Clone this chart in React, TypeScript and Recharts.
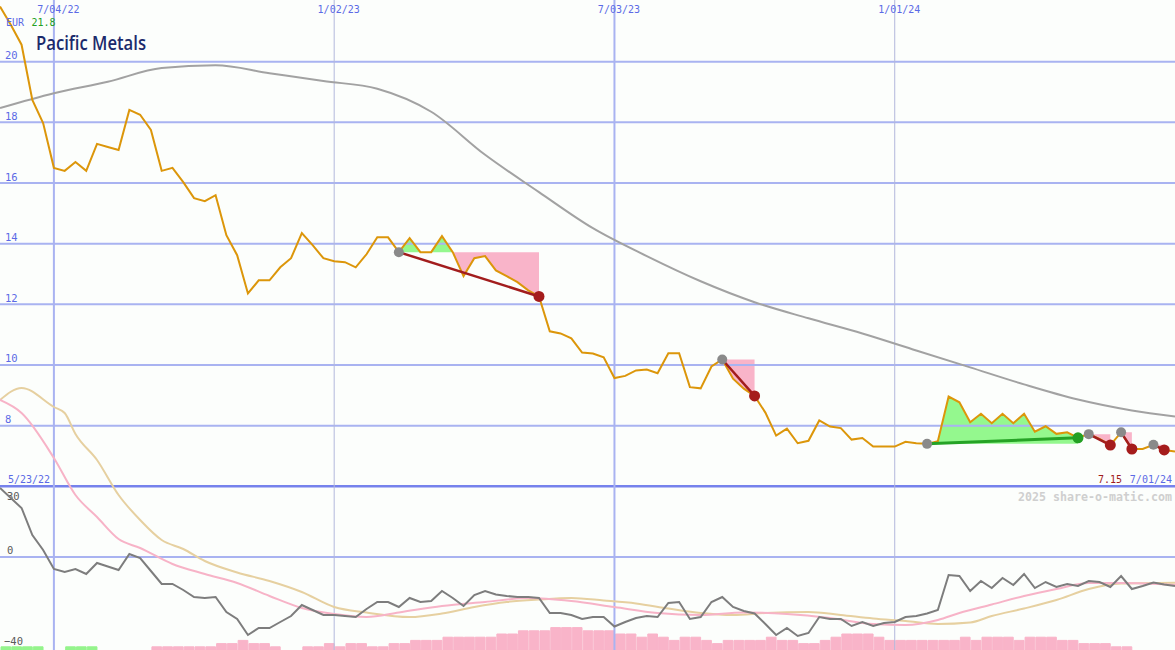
import React from 'react';
import { Area, Bar, ComposedChart, Line, ReferenceLine, XAxis, YAxis } from 'recharts';

const W = 1175;
const H = 650;

// weekly closes, k = 0 is 5/30/22
const price = [
  21.82, 21.22, 20.56, 18.74, 17.98, 16.5, 16.4, 16.69, 16.4, 17.29,
  17.19, 17.09, 18.41, 18.25, 17.75, 16.4, 16.5, 16.03, 15.5, 15.4,
  15.6, 14.28, 13.62, 12.36, 12.79, 12.79, 13.22, 13.52, 14.35, 13.95,
  13.52, 13.42, 13.39, 13.22, 13.65, 14.21, 14.21, 13.72, 14.18, 13.72,
  13.72, 14.25, 13.72, 12.93, 13.52, 13.59, 13.12, 12.93, 12.73, 12.46,
  12.26, 11.11, 11.04, 10.88, 10.41, 10.38, 10.25, 9.57, 9.64, 9.82,
  9.85, 9.73, 10.39, 10.39, 9.27, 9.23, 9.95, 10.18, 9.55, 9.22,
  8.98, 8.43, 7.67, 7.9, 7.42, 7.5, 8.17, 7.97, 7.92, 7.54,
  7.59, 7.31, 7.31, 7.31, 7.47, 7.42, 7.4, 7.49, 8.96, 8.77,
  8.11, 8.39, 8.08, 8.39, 8.08, 8.39, 7.8, 7.98, 7.73, 7.78,
  7.6, 7.72, 7.56, 7.36, 7.78, 7.23, 7.23, 7.37, 7.2, 7.15,
];

const momentum = [
  34.5, 29.5, 24.5, 11, 3.5, -6, -7.5, -6, -8.5, -3,
  -4.75, -6.5, 1.5, -0.5, -7, -13.5, -13.5, -16.5, -20, -20.5,
  -20, -27.5, -31, -39, -35.5, -35.5, -32.5, -29.5, -24, -26.5,
  -29, -29, -29.5, -30, -26, -22.5, -22.5, -25, -20.5, -22.5,
  -22, -17, -20.5, -24.5, -19, -17, -18.75, -19.5, -20, -20,
  -20.5, -28, -28, -29, -31, -30, -30, -34.75, -32.5, -30.5,
  -29.5, -30, -23, -22.5, -31, -30, -22.5, -20, -25, -27,
  -28.25, -33.5, -39, -35.5, -39.5, -38, -30, -31, -31, -34.5,
  -32.5, -34.5, -33, -32.5, -30, -29.5, -28.25, -26.5, -9, -9.5,
  -17, -12, -15.5, -10.5, -14, -8.5, -15.5, -12.5, -15, -13.5,
  -14.5, -12, -12.5, -15, -9.5, -16, -14.5, -12.75, -13.75, -14.5,
];

// histogram steps: positive = green, negative = pink
const hist = [
  1, 1, 1, 1, 0, 0, 1, 1, 1, 0,
  0, 0, 0, 0, -1, -1, -1, -1, -1, -1,
  -2, -2, -3, -2, -2, -1, 0, 0, -1, -1,
  -2, -1, -2, -2, -1, -1, -2, -2, -3, -3,
  -3, -4, -4, -4, -4, -4, -5, -5, -6, -6,
  -6, -7, -7, -7, -6, -6, -6, -5, -5, -4,
  -5, -4, -3, -4, -4, -3, -2, -3, -3, -3,
  -3, -4, -3, -3, -2, -2, -3, -4, -5, -5,
  -5, -4, -3, -3, -3, -3, -3, -3, -3, -4,
  -3, -4, -4, -4, -3, -4, -4, -4, -3, -3,
  -2, -2, -2, -1, -1, 0, 0, 0, 0, 0,
];

// long moving average of price (week, value)
const maPts: [number, number][] = [
  [0, 18.47], [5, 18.96], [10, 19.34], [15, 19.79], [20, 19.88], [25, 19.62],
  [30, 19.36], [35, 19.11], [40, 18.35], [45, 16.93], [50, 15.7], [55, 14.51],
  [60, 13.59], [65, 12.76], [70, 12.07], [75, 11.54], [80, 11.04], [85, 10.48],
  [90, 9.92], [95, 9.36], [100, 8.86], [105, 8.5], [109, 8.3],
];

const oscPinkPts: [number, number][] = [
  [0, 78.5], [2, 72], [5, 49.5], [7, 31], [9, 20], [11, 9], [13, 4.5], [16, -3.5],
  [19, -8.5], [22, -13], [25, -19.5], [28, -25.5], [31, -28.5], [34, -30], [37, -27.75],
  [41, -24.5], [45, -22.5], [49, -20.5], [53, -22], [57, -25], [61, -28], [65, -29],
  [69, -27.75], [73, -28.5], [77, -30.5], [81, -33.5], [84, -34], [87, -31.5], [89, -28],
  [92, -23.75], [95, -19.5], [98, -16], [101, -13], [104, -13], [109, -14],
];

const oscTanPts: [number, number][] = [
  [0, 78.5], [2, 84.5], [5, 75], [6, 72], [7, 61.5], [9, 48.5], [11, 31], [13, 18.5],
  [15, 8.5], [17, 4], [19, -2], [22, -7.75], [25, -12], [28, -17.5], [31, -25],
  [34, -27.75], [38, -30], [41, -28.25], [44, -25], [47, -22.5], [50, -21.25], [53, -20.5],
  [56, -21.75], [59, -23.25], [62, -25.75], [65, -28], [68, -29], [71, -28], [75, -27.5],
  [78, -29], [81, -30.75], [84, -32], [87, -33.5], [90, -32.75], [92, -29.5], [95, -25.75],
  [98, -21.5], [101, -16], [104, -13.25], [109, -12.85],
];

// signal segments: start week -> end week
const trends = [
  { from: 37, to: 50 },
  { from: 67, to: 70 },
  { from: 86, to: 100 },
  { from: 101, to: 103 },
  { from: 104, to: 105 },
  { from: 107, to: 108 },
];

const xTickK = [5, 31, 57, 83];
const xTickLabels = ['7/04/22', '1/02/23', '7/03/23', '1/01/24'];
const priceTicks = [8, 10, 12, 14, 16, 18, 20];
const oscTicks = [30, 0, -40];

const BLUE = '#5b6ae6';
const GRID = '#a9b3f1';
const MONO = '"DejaVu Sans Mono", monospace';
const PINK = '#f9b4c9';
const LIGHT_GREEN = '#94f48c';

const at = (pts: [number, number][], k: number) => {
  const p = pts.find((q) => q[0] === k);
  return p ? p[1] : null;
};

const rows = price.map((p, k) => {
  const row: Record<string, any> = {
    k,
    price: p,
    mom: momentum[k],
    ma: at(maPts, k),
    op: at(oscPinkPts, k),
    ot: at(oscTanPts, k),
    hg: hist[k] > 0 ? hist[k] : null,
    hp: hist[k] < 0 ? -hist[k] : null,
  };
  trends.forEach((t, i) => {
    const inside = k >= t.from && k <= t.to;
    const lvl = price[t.from];
    row[`g${i}`] = inside ? [lvl, Math.max(p, lvl)] : null;
    row[`r${i}`] = inside ? [Math.min(p, lvl), lvl] : null;
    row[`t${i}`] = k === t.from || k === t.to ? p : null;
  });
  row.dotStart = trends.some((t) => t.from === k) ? p : null;
  row.dotRed = trends.some((t) => t.to === k && price[t.to] < price[t.from]) ? p : null;
  row.dotGreen = trends.some((t) => t.to === k && price[t.to] >= price[t.from]) ? p : null;
  return row;
});

// tick texts hung on the reference lines
const XLabel = ({ viewBox, txt }: any) => (
  <text x={viewBox.x + 4.5} y={13} textAnchor="middle" fontSize={10} fontFamily={MONO} fill={BLUE}>
    {txt}
  </text>
);

const YLabel = ({ viewBox, txt, dy0, lx, col }: any) => (
  <text x={lx} y={viewBox.y + dy0} fontSize={10.5} fontFamily={MONO} fill={col}>
    {txt}
  </text>
);

const oscDy = (v: number) => (v === 30 ? 3 : v === -40 ? 8 : -3);

export default function App() {
  const last = price[price.length - 1];
  const top = Math.max(...price);
  return (
    <div style={{ position: 'relative', width: W, height: H, background: '#fcfefc' }}>
      <style>{'body{margin:0;overflow:hidden}'}</style>
      <ComposedChart width={W} height={H} data={rows} margin={{ top: 0, right: 0, bottom: 0, left: 0 }}>
        <XAxis dataKey="k" type="number" domain={[0, 109]} hide allowDataOverflow />
        <XAxis xAxisId="bars" dataKey="k" type="number" domain={[-0.5, 108.5]} hide allowDataOverflow />
        <YAxis yAxisId="p" type="number" domain={[0.603, 22.034]} hide allowDataOverflow />
        <YAxis yAxisId="o" type="number" domain={[-46.5, 278.5]} hide allowDataOverflow />
        <YAxis yAxisId="b" type="number" domain={[0, 203]} hide allowDataOverflow />

        {priceTicks.map((v) => (
          <ReferenceLine
            key={v}
            yAxisId="p"
            y={v}
            stroke={GRID}
            strokeWidth={2}
            label={<YLabel txt={String(v)} dy0={-2.5} lx={5} col={BLUE} />}
          />
        ))}
        <ReferenceLine yAxisId="p" y={6} stroke="#7682ec" strokeWidth={2.5} />
        {oscTicks.map((v) => (
          <ReferenceLine
            key={`o${v}`}
            yAxisId="o"
            y={v}
            stroke={v === 0 ? GRID : 'none'}
            strokeWidth={2}
            label={<YLabel txt={v < 0 ? `\u2212${-v}` : String(v)} dy0={oscDy(v)} lx={v < 0 ? 4 : 7} col="#5a5a5a" />}
          />
        ))}
        {xTickK.map((k, i) => (
          <ReferenceLine
            key={k}
            yAxisId="p"
            x={k}
            stroke={i % 2 === 0 ? GRID : '#b3b8dc'}
            strokeWidth={i % 2 === 0 ? 2 : 1}
            label={<XLabel txt={xTickLabels[i]} />}
          />
        ))}

        <Bar xAxisId="bars" yAxisId="b" dataKey="hg" stackId="h" fill={LIGHT_GREEN} stroke={LIGHT_GREEN} strokeWidth={1} barSize={11} isAnimationActive={false} />
        <Bar xAxisId="bars" yAxisId="b" dataKey="hp" stackId="h" fill={PINK} stroke={PINK} strokeWidth={1} barSize={11} isAnimationActive={false} />

        {trends.map((t, i) => (
          <Area
            key={`g${i}`}
            yAxisId="p"
            dataKey={`g${i}`}
            type="linear"
            stroke="none"
            fill="#94f88e"
            fillOpacity={1}
            activeDot={false}
            isAnimationActive={false}
          />
        ))}
        {trends.map((t, i) => (
          <Area
            key={`r${i}`}
            yAxisId="p"
            dataKey={`r${i}`}
            type="linear"
            stroke="none"
            fill={PINK}
            fillOpacity={1}
            activeDot={false}
            isAnimationActive={false}
          />
        ))}

        <Line yAxisId="p" dataKey="ma" type="monotone" stroke="#a2a2a2" strokeWidth={2} dot={false} activeDot={false} connectNulls isAnimationActive={false} />
        <Line yAxisId="o" dataKey="ot" type="monotone" stroke="#e6d0a0" strokeWidth={2} dot={false} activeDot={false} connectNulls isAnimationActive={false} />
        <Line yAxisId="o" dataKey="op" type="monotone" stroke="#f7b3c7" strokeWidth={2} dot={false} activeDot={false} connectNulls isAnimationActive={false} />
        <Line yAxisId="o" dataKey="mom" type="linear" stroke="#7d7d7d" strokeWidth={2} dot={false} activeDot={false} isAnimationActive={false} />
        <Line yAxisId="p" dataKey="price" type="linear" stroke="#dc960a" strokeWidth={2} dot={false} activeDot={false} isAnimationActive={false} />

        {trends.map((t, i) => (
          <Line
            key={`t${i}`}
            yAxisId="p"
            dataKey={`t${i}`}
            type="linear"
            stroke={price[t.to] >= price[t.from] ? '#26a326' : '#a21d1d'}
            strokeWidth={price[t.to] >= price[t.from] ? 3 : 2.5}
            dot={false}
            activeDot={false}
            connectNulls
            isAnimationActive={false}
          />
        ))}

        <Line yAxisId="p" dataKey="dotStart" stroke="none" dot={{ r: 5, fill: '#8a8a8a', stroke: 'none' }} activeDot={false} isAnimationActive={false} />
        <Line yAxisId="p" dataKey="dotRed" stroke="none" dot={{ r: 5.5, fill: '#a51c1c', stroke: 'none' }} activeDot={false} isAnimationActive={false} />
        <Line yAxisId="p" dataKey="dotGreen" stroke="none" dot={{ r: 5.5, fill: '#24a024', stroke: 'none' }} activeDot={false} isAnimationActive={false} />
      </ComposedChart>

      <svg width={W} height={H} style={{ position: 'absolute', left: 0, top: 0, pointerEvents: 'none' }}>
        <text x={6} y={25.5} fontSize={10} fontFamily={MONO} fill={BLUE}>EUR</text>
        <text x={31.5} y={25.5} fontSize={10} fontFamily={MONO} fill="#23a023">{top.toFixed(1)}</text>
        <text
          x={36}
          y={50}
          fontSize={20}
          fontFamily='"Open Sans", sans-serif'
          fontWeight={600}
          fill="#1b2a6b"
          textLength={110}
          lengthAdjust="spacingAndGlyphs"
        >
          Pacific Metals
        </text>
        <text x={8} y={483} fontSize={10} fontFamily={MONO} fill={BLUE}>5/23/22</text>
        <text x={1122} y={483} textAnchor="end" fontSize={10} fontFamily={MONO} fill="#a01c1c">{last.toFixed(2)}</text>
        <text x={1172} y={483} textAnchor="end" fontSize={10} fontFamily={MONO} fill={BLUE}>7/01/24</text>
        <text
          x={1018}
          y={500.5}
          fontSize={11.5}
          fontWeight={700}
          fontFamily={MONO}
          fill="#cfcfcf"
          textLength={154}
          lengthAdjust="spacingAndGlyphs"
        >
          2025 share-o-matic.com
        </text>
      </svg>
    </div>
  );
}
